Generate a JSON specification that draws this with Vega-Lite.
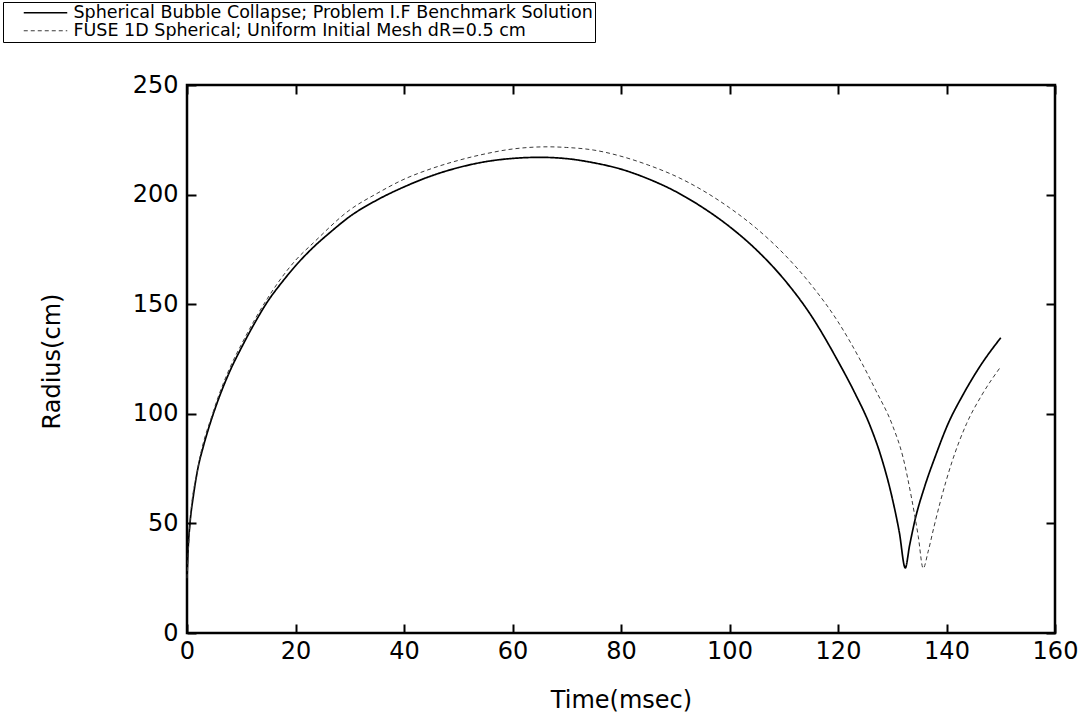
{
  "$schema": "https://vega.github.io/schema/vega-lite/v6.json",
  "width": 868,
  "height": 548,
  "autosize": {"type": "none"},
  "padding": {"left": 187, "top": 85, "right": 24, "bottom": 86},
  "background": "white",
  "config": {
    "font": "DejaVu Sans",
    "view": {"stroke": "black", "strokeWidth": 2.5},
    "axis": {
      "domain": false,
      "grid": false,
      "tickColor": "black",
      "tickWidth": 2,
      "tickSize": -9,
      "labelFont": "DejaVu Sans",
      "labelFontSize": 24,
      "labelColor": "black",
      "labelFlush": false,
      "labelOverlap": false,
      "titleFont": "DejaVu Sans",
      "titleFontSize": 24,
      "titleFontWeight": "normal",
      "titleColor": "black"
    }
  },
  "data": {
    "values": [
      {"t": 0, "r": 25, "run": "Spherical Bubble Collapse; Problem I.F Benchmark Solution"},
      {"t": 0.2, "r": 38, "run": "Spherical Bubble Collapse; Problem I.F Benchmark Solution"},
      {"t": 0.55, "r": 50, "run": "Spherical Bubble Collapse; Problem I.F Benchmark Solution"},
      {"t": 1.2, "r": 63, "run": "Spherical Bubble Collapse; Problem I.F Benchmark Solution"},
      {"t": 2, "r": 75, "run": "Spherical Bubble Collapse; Problem I.F Benchmark Solution"},
      {"t": 3, "r": 85, "run": "Spherical Bubble Collapse; Problem I.F Benchmark Solution"},
      {"t": 4, "r": 93.5, "run": "Spherical Bubble Collapse; Problem I.F Benchmark Solution"},
      {"t": 4.85, "r": 100, "run": "Spherical Bubble Collapse; Problem I.F Benchmark Solution"},
      {"t": 6, "r": 108, "run": "Spherical Bubble Collapse; Problem I.F Benchmark Solution"},
      {"t": 8, "r": 120, "run": "Spherical Bubble Collapse; Problem I.F Benchmark Solution"},
      {"t": 10, "r": 130, "run": "Spherical Bubble Collapse; Problem I.F Benchmark Solution"},
      {"t": 12.5, "r": 141.5, "run": "Spherical Bubble Collapse; Problem I.F Benchmark Solution"},
      {"t": 14.8, "r": 151, "run": "Spherical Bubble Collapse; Problem I.F Benchmark Solution"},
      {"t": 17.5, "r": 160, "run": "Spherical Bubble Collapse; Problem I.F Benchmark Solution"},
      {"t": 20, "r": 167.5, "run": "Spherical Bubble Collapse; Problem I.F Benchmark Solution"},
      {"t": 23.3, "r": 176, "run": "Spherical Bubble Collapse; Problem I.F Benchmark Solution"},
      {"t": 26.5, "r": 183, "run": "Spherical Bubble Collapse; Problem I.F Benchmark Solution"},
      {"t": 30, "r": 190, "run": "Spherical Bubble Collapse; Problem I.F Benchmark Solution"},
      {"t": 35, "r": 197.5, "run": "Spherical Bubble Collapse; Problem I.F Benchmark Solution"},
      {"t": 40, "r": 203.5, "run": "Spherical Bubble Collapse; Problem I.F Benchmark Solution"},
      {"t": 45, "r": 208.5, "run": "Spherical Bubble Collapse; Problem I.F Benchmark Solution"},
      {"t": 50, "r": 212.3, "run": "Spherical Bubble Collapse; Problem I.F Benchmark Solution"},
      {"t": 55, "r": 215, "run": "Spherical Bubble Collapse; Problem I.F Benchmark Solution"},
      {"t": 60, "r": 216.5, "run": "Spherical Bubble Collapse; Problem I.F Benchmark Solution"},
      {"t": 65, "r": 217, "run": "Spherical Bubble Collapse; Problem I.F Benchmark Solution"},
      {"t": 70, "r": 216.4, "run": "Spherical Bubble Collapse; Problem I.F Benchmark Solution"},
      {"t": 75, "r": 214.5, "run": "Spherical Bubble Collapse; Problem I.F Benchmark Solution"},
      {"t": 80, "r": 211.6, "run": "Spherical Bubble Collapse; Problem I.F Benchmark Solution"},
      {"t": 85, "r": 207.2, "run": "Spherical Bubble Collapse; Problem I.F Benchmark Solution"},
      {"t": 90, "r": 201.5, "run": "Spherical Bubble Collapse; Problem I.F Benchmark Solution"},
      {"t": 95, "r": 194.2, "run": "Spherical Bubble Collapse; Problem I.F Benchmark Solution"},
      {"t": 100, "r": 185.4, "run": "Spherical Bubble Collapse; Problem I.F Benchmark Solution"},
      {"t": 105, "r": 174.7, "run": "Spherical Bubble Collapse; Problem I.F Benchmark Solution"},
      {"t": 110, "r": 161.5, "run": "Spherical Bubble Collapse; Problem I.F Benchmark Solution"},
      {"t": 115, "r": 145, "run": "Spherical Bubble Collapse; Problem I.F Benchmark Solution"},
      {"t": 120, "r": 124, "run": "Spherical Bubble Collapse; Problem I.F Benchmark Solution"},
      {"t": 123, "r": 110, "run": "Spherical Bubble Collapse; Problem I.F Benchmark Solution"},
      {"t": 126, "r": 94, "run": "Spherical Bubble Collapse; Problem I.F Benchmark Solution"},
      {"t": 128, "r": 80, "run": "Spherical Bubble Collapse; Problem I.F Benchmark Solution"},
      {"t": 130, "r": 61.5, "run": "Spherical Bubble Collapse; Problem I.F Benchmark Solution"},
      {"t": 131.3, "r": 46, "run": "Spherical Bubble Collapse; Problem I.F Benchmark Solution"},
      {"t": 132.4, "r": 29.7, "run": "Spherical Bubble Collapse; Problem I.F Benchmark Solution"},
      {"t": 133.2, "r": 40, "run": "Spherical Bubble Collapse; Problem I.F Benchmark Solution"},
      {"t": 134.2, "r": 51.6, "run": "Spherical Bubble Collapse; Problem I.F Benchmark Solution"},
      {"t": 136, "r": 67, "run": "Spherical Bubble Collapse; Problem I.F Benchmark Solution"},
      {"t": 138, "r": 81, "run": "Spherical Bubble Collapse; Problem I.F Benchmark Solution"},
      {"t": 140.3, "r": 95.5, "run": "Spherical Bubble Collapse; Problem I.F Benchmark Solution"},
      {"t": 143, "r": 108.5, "run": "Spherical Bubble Collapse; Problem I.F Benchmark Solution"},
      {"t": 146, "r": 121, "run": "Spherical Bubble Collapse; Problem I.F Benchmark Solution"},
      {"t": 150, "r": 134.7, "run": "Spherical Bubble Collapse; Problem I.F Benchmark Solution"},
      {"t": 0, "r": 25, "run": "FUSE 1D Spherical; Uniform Initial Mesh dR=0.5 cm"},
      {"t": 0.55, "r": 50, "run": "FUSE 1D Spherical; Uniform Initial Mesh dR=0.5 cm"},
      {"t": 2, "r": 75, "run": "FUSE 1D Spherical; Uniform Initial Mesh dR=0.5 cm"},
      {"t": 4.85, "r": 101, "run": "FUSE 1D Spherical; Uniform Initial Mesh dR=0.5 cm"},
      {"t": 8, "r": 121.5, "run": "FUSE 1D Spherical; Uniform Initial Mesh dR=0.5 cm"},
      {"t": 10, "r": 131.5, "run": "FUSE 1D Spherical; Uniform Initial Mesh dR=0.5 cm"},
      {"t": 14.8, "r": 152.5, "run": "FUSE 1D Spherical; Uniform Initial Mesh dR=0.5 cm"},
      {"t": 20, "r": 170, "run": "FUSE 1D Spherical; Uniform Initial Mesh dR=0.5 cm"},
      {"t": 23.3, "r": 178, "run": "FUSE 1D Spherical; Uniform Initial Mesh dR=0.5 cm"},
      {"t": 30, "r": 193, "run": "FUSE 1D Spherical; Uniform Initial Mesh dR=0.5 cm"},
      {"t": 35, "r": 200.5, "run": "FUSE 1D Spherical; Uniform Initial Mesh dR=0.5 cm"},
      {"t": 40, "r": 207, "run": "FUSE 1D Spherical; Uniform Initial Mesh dR=0.5 cm"},
      {"t": 45, "r": 211.8, "run": "FUSE 1D Spherical; Uniform Initial Mesh dR=0.5 cm"},
      {"t": 50, "r": 215.6, "run": "FUSE 1D Spherical; Uniform Initial Mesh dR=0.5 cm"},
      {"t": 55, "r": 218.6, "run": "FUSE 1D Spherical; Uniform Initial Mesh dR=0.5 cm"},
      {"t": 60, "r": 220.8, "run": "FUSE 1D Spherical; Uniform Initial Mesh dR=0.5 cm"},
      {"t": 66.5, "r": 221.8, "run": "FUSE 1D Spherical; Uniform Initial Mesh dR=0.5 cm"},
      {"t": 70, "r": 221.5, "run": "FUSE 1D Spherical; Uniform Initial Mesh dR=0.5 cm"},
      {"t": 75, "r": 220.3, "run": "FUSE 1D Spherical; Uniform Initial Mesh dR=0.5 cm"},
      {"t": 80, "r": 217.5, "run": "FUSE 1D Spherical; Uniform Initial Mesh dR=0.5 cm"},
      {"t": 85, "r": 213.5, "run": "FUSE 1D Spherical; Uniform Initial Mesh dR=0.5 cm"},
      {"t": 90, "r": 208.5, "run": "FUSE 1D Spherical; Uniform Initial Mesh dR=0.5 cm"},
      {"t": 95, "r": 202, "run": "FUSE 1D Spherical; Uniform Initial Mesh dR=0.5 cm"},
      {"t": 100, "r": 194, "run": "FUSE 1D Spherical; Uniform Initial Mesh dR=0.5 cm"},
      {"t": 105, "r": 184.5, "run": "FUSE 1D Spherical; Uniform Initial Mesh dR=0.5 cm"},
      {"t": 110, "r": 173, "run": "FUSE 1D Spherical; Uniform Initial Mesh dR=0.5 cm"},
      {"t": 115, "r": 159, "run": "FUSE 1D Spherical; Uniform Initial Mesh dR=0.5 cm"},
      {"t": 120, "r": 142, "run": "FUSE 1D Spherical; Uniform Initial Mesh dR=0.5 cm"},
      {"t": 124, "r": 125, "run": "FUSE 1D Spherical; Uniform Initial Mesh dR=0.5 cm"},
      {"t": 127, "r": 110.5, "run": "FUSE 1D Spherical; Uniform Initial Mesh dR=0.5 cm"},
      {"t": 130, "r": 95, "run": "FUSE 1D Spherical; Uniform Initial Mesh dR=0.5 cm"},
      {"t": 132, "r": 80, "run": "FUSE 1D Spherical; Uniform Initial Mesh dR=0.5 cm"},
      {"t": 133.6, "r": 61, "run": "FUSE 1D Spherical; Uniform Initial Mesh dR=0.5 cm"},
      {"t": 134.8, "r": 44, "run": "FUSE 1D Spherical; Uniform Initial Mesh dR=0.5 cm"},
      {"t": 135.7, "r": 29.5, "run": "FUSE 1D Spherical; Uniform Initial Mesh dR=0.5 cm"},
      {"t": 136.6, "r": 37, "run": "FUSE 1D Spherical; Uniform Initial Mesh dR=0.5 cm"},
      {"t": 137.7, "r": 48.5, "run": "FUSE 1D Spherical; Uniform Initial Mesh dR=0.5 cm"},
      {"t": 138.8, "r": 59.3, "run": "FUSE 1D Spherical; Uniform Initial Mesh dR=0.5 cm"},
      {"t": 141, "r": 78, "run": "FUSE 1D Spherical; Uniform Initial Mesh dR=0.5 cm"},
      {"t": 143.7, "r": 95.5, "run": "FUSE 1D Spherical; Uniform Initial Mesh dR=0.5 cm"},
      {"t": 146.5, "r": 108.5, "run": "FUSE 1D Spherical; Uniform Initial Mesh dR=0.5 cm"},
      {"t": 150, "r": 121.5, "run": "FUSE 1D Spherical; Uniform Initial Mesh dR=0.5 cm"}
    ]
  },
  "layer": [
    {
      "mark": {"type": "line", "opacity": 0},
      "encoding": {
        "x": {
          "field": "t", "type": "quantitative",
          "scale": {"domain": [0, 160], "nice": false, "zero": false},
          "axis": {"orient": "top", "values": [0, 20, 40, 60, 80, 100, 120, 140, 160], "labels": false, "title": null}
        },
        "y": {
          "field": "r", "type": "quantitative",
          "scale": {"domain": [0, 250], "nice": false},
          "axis": {"orient": "right", "values": [0, 50, 100, 150, 200, 250], "labels": false, "title": null}
        },
        "detail": {"field": "run"}
      }
    },
    {
      "mark": {"type": "line", "interpolate": "monotone"},
      "encoding": {
        "x": {
          "field": "t", "type": "quantitative",
          "axis": {
            "orient": "bottom",
            "values": [0, 20, 40, 60, 80, 100, 120, 140, 160],
            "labelPadding": 15,
            "title": "Time(msec)",
            "titleY": 74,
            "titleBaseline": "alphabetic"
          }
        },
        "y": {
          "field": "r", "type": "quantitative",
          "axis": {
            "orient": "left",
            "values": [0, 50, 100, 150, 200, 250],
            "labelPadding": 18,
            "title": "Radius(cm)",
            "titleX": -128,
            "titleY": 276,
            "titleAlign": "center",
            "titleBaseline": "alphabetic"
          }
        },
        "color": {
          "field": "run", "type": "nominal",
          "scale": {
            "domain": ["Spherical Bubble Collapse; Problem I.F Benchmark Solution", "FUSE 1D Spherical; Uniform Initial Mesh dR=0.5 cm"],
            "range": ["#000000", "#3a3a3a"]
          },
          "legend": {
            "orient": "none",
            "legendX": -184,
            "legendY": -83,
            "title": null,
            "strokeColor": "black",
            "fillColor": "white",
            "padding": 2,
            "rowPadding": -3,
            "labelFont": "DejaVu Sans",
            "labelFontSize": 17.5,
            "labelColor": "black",
            "labelLimit": 1000,
            "labelOffset": 51,
            "symbolType": "M2,0H10.7",
            "symbolSize": 100,
            "symbolStrokeWidth": 1.3
          }
        },
        "strokeDash": {
          "field": "run", "type": "nominal",
          "scale": {
            "domain": ["Spherical Bubble Collapse; Problem I.F Benchmark Solution", "FUSE 1D Spherical; Uniform Initial Mesh dR=0.5 cm"],
            "range": [[1, 0], [4, 3]]
          }
        },
        "strokeWidth": {
          "field": "run", "type": "nominal",
          "scale": {
            "domain": ["Spherical Bubble Collapse; Problem I.F Benchmark Solution", "FUSE 1D Spherical; Uniform Initial Mesh dR=0.5 cm"],
            "range": [1.7, 1]
          },
          "legend": null
        }
      }
    }
  ],
  "resolve": {"axis": {"x": "independent", "y": "independent"}}
}
